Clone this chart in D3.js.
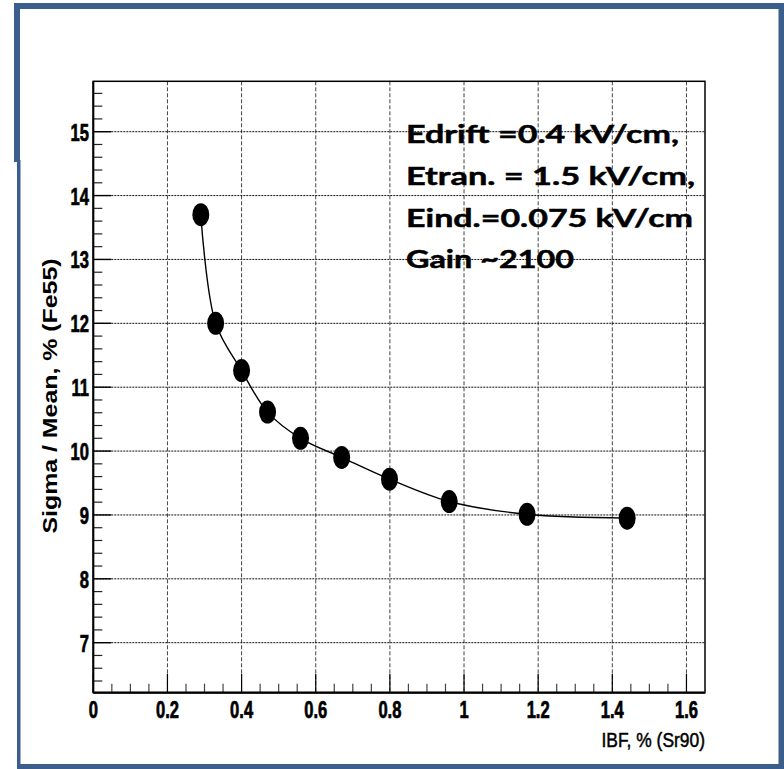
<!DOCTYPE html>
<html>
<head>
<meta charset="utf-8">
<script src="https://cdn.jsdelivr.net/npm/d3@7"></script>
<style>
  html, body { margin: 0; padding: 0; background: #fff; }
  svg { display: block; }
</style>
</head>
<body>
<svg id="chart" width="784" height="769"></svg>
<script>
// ---- data ----
const ibf = [0.290, 0.330, 0.400, 0.470, 0.559, 0.670, 0.799, 0.960, 1.170, 1.440];
const sigmaMean = [13.70, 12.00, 11.26, 10.61, 10.20, 9.90, 9.56, 9.21, 9.01, 8.95];
const xTickValues = [0, 0.2, 0.4, 0.6, 0.8, 1, 1.2, 1.4, 1.6];
const xTickLabels = ["0", "0.2", "0.4", "0.6", "0.8", "1", "1.2", "1.4", "1.6"];
const yTickValues = [7, 8, 9, 10, 11, 12, 13, 14, 15];
const yTickLabels = ["7", "8", "9", "10", "11", "12", "13", "14", "15"];
const xTitle = "IBF, % (Sr90)";
const yTitle = "Sigma / Mean, % (Fe55)";
const noteLines = ["Edrift =0.4 kV/cm,", "Etran. = 1.5 kV/cm,", "Eind.=0.075 kV/cm", "Gain ~2100"];

// ---- layout ----
const svg = d3.select("#chart");
const L = 93.3, R = 705, T = 81.3, B = 692.7;
const x = d3.scaleLinear().domain([0, 1.65]).range([L, R]);
const y = d3.scaleLinear().domain([6.217, 15.789]).range([B, T]);
const sans = "'Liberation Sans',Arial,Helvetica,sans-serif";
const blue = "#3b5e8d";

// slide frame (blue)
svg.append("rect").attr("x", 14).attr("y", 3).attr("width", 770).attr("height", 6).attr("fill", blue);
svg.append("rect").attr("x", 14).attr("y", 3).attr("width", 6).attr("height", 159).attr("fill", blue);
svg.append("rect").attr("x", 17).attr("y", 160).attr("width", 3.5).attr("height", 609).attr("fill", blue);
svg.append("rect").attr("x", 778.5).attr("y", 3).attr("width", 5.5).attr("height", 766).attr("fill", blue);
svg.append("rect").attr("x", 17).attr("y", 764).attr("width", 767).attr("height", 5).attr("fill", blue);

// grid
const g = svg.append("g");
g.selectAll("line.vg").data(xTickValues.filter(v => v > 0)).join("line")
  .attr("x1", d => x(d)).attr("x2", d => x(d)).attr("y1", T).attr("y2", B)
  .attr("stroke", "#444").attr("stroke-width", 1).attr("stroke-dasharray", "4,2");
g.selectAll("line.hg").data(yTickValues).join("line")
  .attr("x1", L).attr("x2", R).attr("y1", d => y(d)).attr("y2", d => y(d))
  .attr("stroke", "#111").attr("stroke-width", 1).attr("stroke-dasharray", "2,1");

// minor / major ticks
const xMinor = d3.range(0, 1.65, 0.05).filter(v => Math.abs(v / 0.2 - Math.round(v / 0.2)) > 1e-6);
g.selectAll("line.xm").data(xMinor).join("line")
  .attr("x1", d => x(d)).attr("x2", d => x(d)).attr("y1", B).attr("y2", B - 9)
  .attr("stroke", "#444").attr("stroke-width", 1.2);
g.selectAll("line.xM").data(xTickValues).join("line")
  .attr("x1", d => x(d)).attr("x2", d => x(d)).attr("y1", B).attr("y2", B - 19)
  .attr("stroke", "#000").attr("stroke-width", 1.2);
const yMinor = d3.range(6.4, 15.79, 0.2).filter(v => Math.abs(v - Math.round(v)) > 1e-6);
g.selectAll("line.ym").data(yMinor).join("line")
  .attr("x1", L).attr("x2", L + 9).attr("y1", d => y(d)).attr("y2", d => y(d))
  .attr("stroke", "#222").attr("stroke-width", 1.2);
g.selectAll("line.yM").data(yTickValues).join("line")
  .attr("x1", L).attr("x2", L + 18).attr("y1", d => y(d)).attr("y2", d => y(d))
  .attr("stroke", "#000").attr("stroke-width", 1.4);

// frame
svg.append("rect").attr("x", L).attr("y", T).attr("width", R - L).attr("height", B - T)
  .attr("fill", "none").attr("stroke", "#000").attr("stroke-width", 1.5);
svg.append("line").attr("x1", L).attr("x2", L).attr("y1", T).attr("y2", B).attr("stroke", "#000").attr("stroke-width", 2);
svg.append("line").attr("x1", L).attr("x2", R).attr("y1", B).attr("y2", B).attr("stroke", "#000").attr("stroke-width", 2.2);

// tick labels (condensed, like Arial Narrow Bold)
svg.selectAll("text.xl").data(xTickValues).join("text")
  .attr("transform", d => `translate(${x(d)},718) scale(0.72,1)`)
  .attr("text-anchor", "middle").attr("font-family", sans).attr("font-weight", "bold")
  .attr("font-size", 23).attr("fill", "#000").attr("stroke", "#000").attr("stroke-width", 0.7)
  .text((d, i) => xTickLabels[i]);
svg.selectAll("text.yl").data(yTickValues).join("text")
  .attr("transform", d => `translate(89,${y(d) + 9}) scale(0.72,1)`)
  .attr("text-anchor", "end").attr("font-family", sans).attr("font-weight", "bold")
  .attr("font-size", 23).attr("fill", "#000").attr("stroke", "#000").attr("stroke-width", 0.7)
  .text((d, i) => yTickLabels[i]);

// axis titles
svg.append("text").attr("transform", "translate(705,747) scale(0.83,1)")
  .attr("text-anchor", "end").attr("font-family", sans).attr("font-size", 21).attr("fill", "#000")
  .attr("stroke", "#000").attr("stroke-width", 0.5)
  .text(xTitle);
svg.append("text").attr("transform", "translate(57,396) rotate(-90)")
  .attr("text-anchor", "middle").attr("font-family", sans)
  .attr("font-weight", "bold").attr("font-size", 20).attr("fill", "#000")
  .attr("textLength", 275).attr("lengthAdjust", "spacingAndGlyphs")
  .text(yTitle);

// curve
const pts = ibf.map((v, i) => [v, sigmaMean[i]]);
svg.append("path").datum(pts)
  .attr("d", d3.line().x(d => x(d[0])).y(d => y(d[1])).curve(d3.curveCatmullRom.alpha(0.5)))
  .attr("fill", "none").attr("stroke", "#000").attr("stroke-width", 1.4);

// markers
svg.selectAll("ellipse.pt").data(pts).join("ellipse")
  .attr("cx", d => x(d[0])).attr("cy", d => y(d[1])).attr("rx", 8.5).attr("ry", 11.5)
  .attr("fill", "#000");

// annotation
const noteBase = [143, 185, 227, 268];
const noteWidth = [273, 289, 287, 168];
svg.selectAll("text.note").data(noteLines).join("text")
  .attr("x", 406).attr("y", (d, i) => noteBase[i])
  .attr("font-family", "Lato,'Open Sans',sans-serif").attr("font-weight", "bold")
  .attr("font-size", 25).attr("fill", "#000").attr("stroke", "#000").attr("stroke-width", 0.5)
  .attr("textLength", (d, i) => noteWidth[i]).attr("lengthAdjust", "spacingAndGlyphs")
  .text(d => d);
</script>
</body>
</html>
